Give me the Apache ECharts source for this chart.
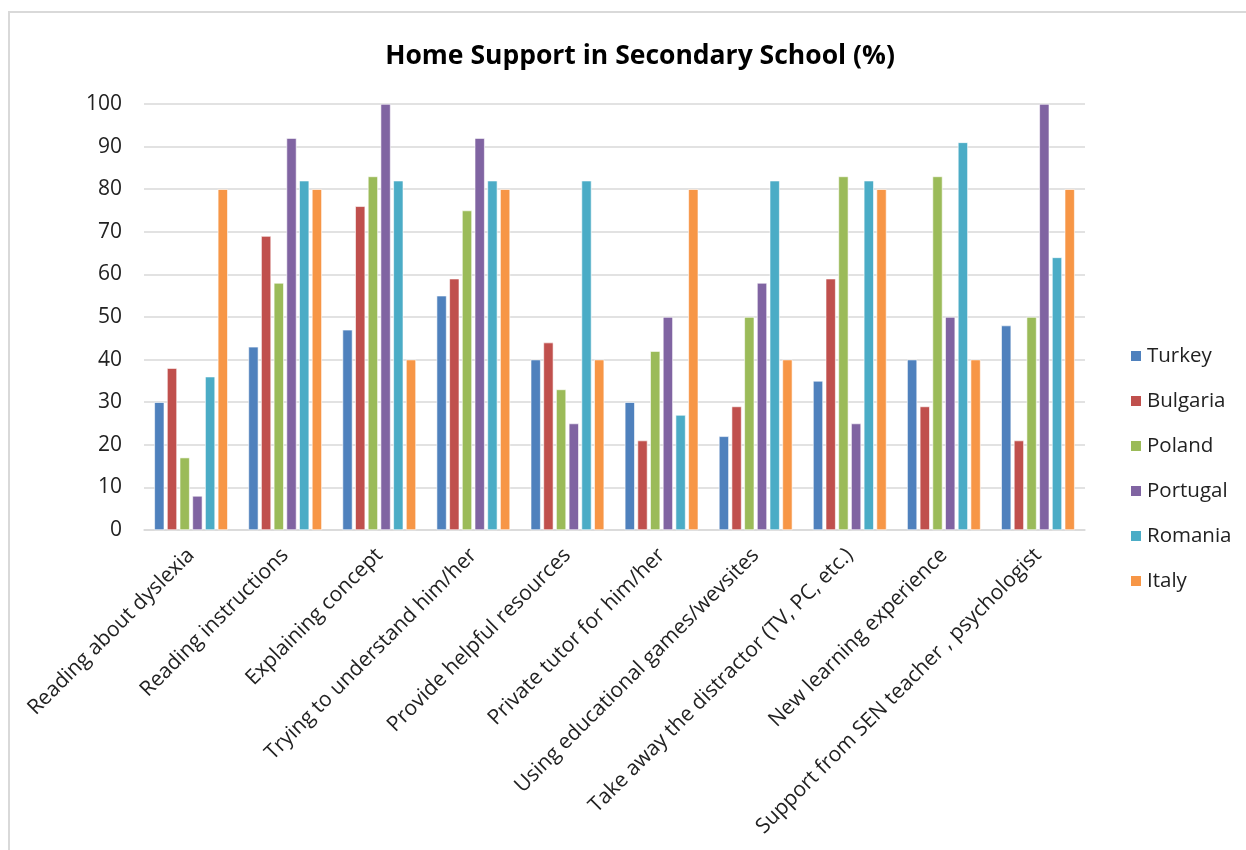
<!DOCTYPE html>
<html>
<head>
<meta charset="utf-8">
<script src="https://cdn.jsdelivr.net/npm/echarts@6/dist/echarts.min.js"></script>
<style>
html,body{margin:0;padding:0;background:#fff;}
#chart{width:1246px;height:850px;}
</style>
</head>
<body>
<div id="chart"></div>
<script>
const categories = [
  "Reading about dyslexia",
  "Reading instructions",
  "Explaining concept",
  "Trying to understand him/her",
  "Provide helpful resources",
  "Private tutor for him/her",
  "Using educational games/wevsites",
  "Take away the distractor (TV, PC, etc.)",
  "New learning experience",
  "Support from SEN teacher , psychologist"
];
const turkey   = [30, 43, 47, 55, 40, 30, 22, 35, 40, 48];
const bulgaria = [38, 69, 76, 59, 44, 21, 29, 59, 29, 21];
const poland   = [17, 58, 83, 75, 33, 42, 50, 83, 83, 50];
const portugal = [8, 92, 100, 92, 25, 50, 58, 25, 50, 100];
const romania  = [36, 82, 82, 82, 82, 27, 82, 82, 91, 64];
const italy    = [80, 80, 40, 80, 40, 80, 40, 80, 40, 80];
const seriesNames = ["Turkey", "Bulgaria", "Poland", "Portugal", "Romania", "Italy"];
const seriesData = [turkey, bulgaria, poland, portugal, romania, italy];
const colors = ["#4F81BD", "#C0504D", "#9BBB59", "#8064A2", "#4BACC6", "#F79646"];
const yTicks = [0, 10, 20, 30, 40, 50, 60, 70, 80, 90, 100];

const chart = echarts.init(document.getElementById('chart'));
const font = "'Open Sans', 'Liberation Sans', sans-serif";
chart.setOption({
  animation: false,
  color: colors,
  textStyle: { fontFamily: font },
  graphic: [{
    type: 'rect',
    shape: { x: 9, y: 12, width: 1300, height: 900 },
    style: { fill: 'none', stroke: '#d9d9d9', lineWidth: 2 },
    silent: true
  }],
  title: {
    text: "Home Support in Secondary School (%)",
    left: 635, top: 38, textAlign: 'center',
    textStyle: { fontFamily: font, fontSize: 26.5, fontWeight: 'bold', color: '#000' }
  },
  legend: {
    orient: 'vertical',
    left: 1124, top: 339,
    itemWidth: 12, itemHeight: 12, itemGap: 21,
    icon: 'rect',
    data: seriesNames,
    textStyle: { fontFamily: font, fontSize: 20.5, color: '#222', lineHeight: 24, padding: [0,0,0,0] }
  },
  grid: { left: 144, right: 161, top: 104, bottom: 320, containLabel: false },
  xAxis: {
    type: 'category',
    data: categories,
    axisLine: { lineStyle: { color: '#d9d9d9', width: 1.5 } },
    axisTick: { show: false },
    axisLabel: { rotate: 45, interval: 0, fontSize: 21, color: '#222', fontFamily: font, margin: 22 }
  },
  yAxis: {
    type: 'value', min: 0, max: 100, interval: 10,
    axisLine: { show: false },
    axisTick: { show: false },
    axisLabel: { fontSize: 21, color: '#222', fontFamily: font, margin: 22,
      formatter: v => yTicks.includes(v) ? String(v) : '' },
    splitLine: { lineStyle: { color: '#d9d9d9', width: 1.5 } }
  },
  series: seriesNames.map((n, i) => ({
    name: n, type: 'bar', data: seriesData[i],
    barWidth: 10, barGap: '27%',
    itemStyle: { color: colors[i], borderColor: '#ffffff', borderWidth: 0.6 }
  }))
});
</script>
</body>
</html>
